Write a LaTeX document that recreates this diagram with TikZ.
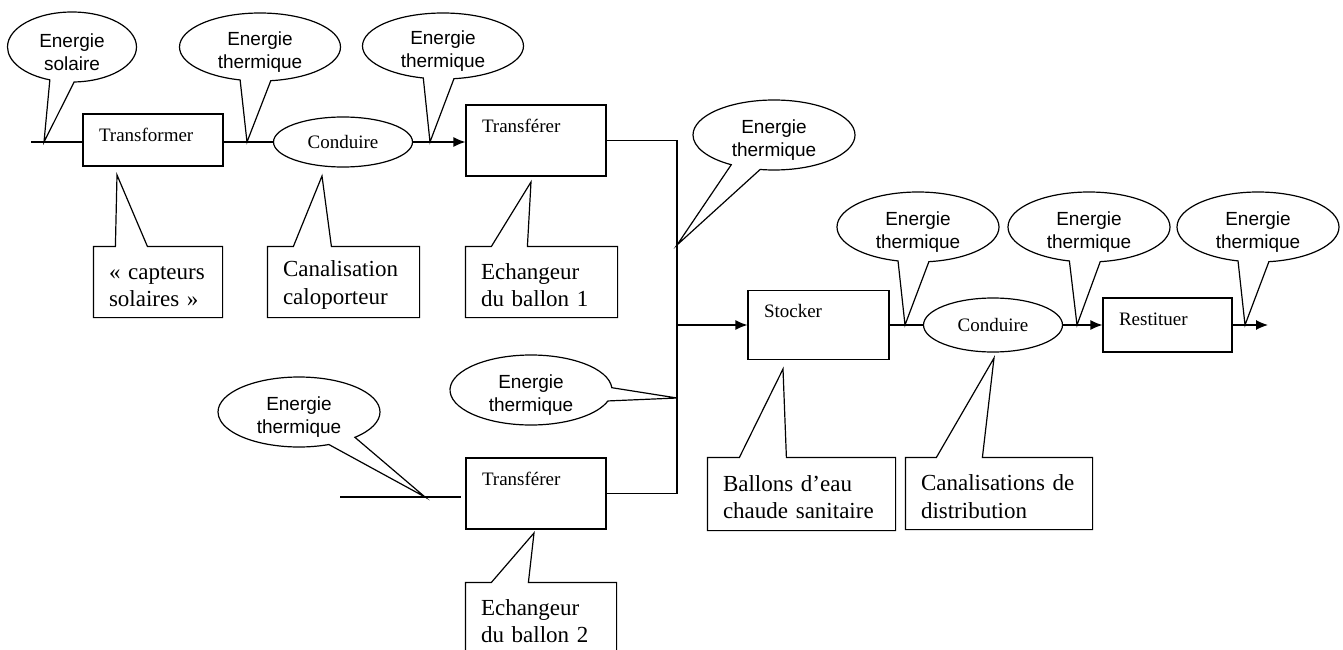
\documentclass[tikz,border=0pt]{standalone}
\usepackage{fontspec}
\setmainfont{Liberation Serif}
\newfontfamily\bullefont{Liberation Sans}
\usetikzlibrary{arrows.meta,shapes.geometric,shapes.callouts}

\begin{document}
\begin{tikzpicture}[x=1pt,y=-1pt,>={Latex[length=12pt,width=10pt]},line width=1.2pt]
  \tikzset{bulle/.style={ellipse callout,draw,align=center,inner xsep=0pt,inner ysep=-6pt,
      minimum width=162pt,minimum height=70pt,callout pointer arc=22,
      execute at begin node=\rule{0pt}{47pt},
      font=\bullefont\fontsize{19}{23}\selectfont}}
  \tikzset{fonction/.style 2 args={draw,align=left,inner xsep=16pt,inner ysep=0pt,
      text width=#1,text height=27pt,text depth=#2,font=\fontsize{19}{23}\selectfont}}
  \tikzset{conduite/.style={ellipse,draw,inner sep=0pt,minimum width=139pt,
      font=\fontsize{19}{23}\selectfont}}
  \tikzset{support/.style={rectangle,align=left,inner xsep=15pt,inner ysep=0pt,
      text width=#1,minimum height=70pt,execute at begin node=\rule{0pt}{22pt},
      font=\fontsize{23}{27.5}\selectfont}}
  \useasboundingbox (0,0) rectangle (1343,650);

  % fonctions
  \node[fonction={108pt}{25pt}] (tr) at (153,140) {Transformer};
  \node[conduite,minimum height=50pt] (co1) at (343,142) {Conduire};
  \node[fonction={108pt}{44pt}] (tf1) at (536,140.5) {Transférer};
  \node[fonction={108pt}{44pt}] (tf2) at (536,493.5) {Transférer};
  \node[fonction={109pt}{42pt}] (st) at (818.5,325) {Stocker};
  \node[conduite,minimum height=54pt] (co2) at (993,325) {Conduire};
  \node[fonction={97pt}{27pt}] (re) at (1167.5,325) {Restituer};

  % free ends and junction
  \coordinate (e1) at (31,142);
  \coordinate (e2) at (340,497);
  \coordinate (j) at (677,325);
  \coordinate (s) at (1268,325);

  % flux
  \draw (e1) -- (e1 -| tr.west);
  \draw (tr.east |- co1.west) -- (co1.west);
  \draw[->] (co1.east) -- (co1.east -| tf1.west);
  \draw (tf1.east) -| (j) |- (tf2.east);
  \draw (e2) -- ([xshift=-4pt]e2 -| tf2.west);
  \draw[->] (j) -- (j -| st.west);
  \draw (st.east) -- (co2.west);
  \draw[->] (co2.east) -- (re.west);
  \draw[->] (re.east) -- (s);

  % points of the bubbles
  \coordinate (p1) at (44,142);
  \coordinate (p2) at (247,142);
  \coordinate (p3) at (430,142);
  \coordinate (p4) at (677,245);
  \coordinate (p5) at (677,398);
  \coordinate (p6) at (425,497);
  \coordinate (p7) at (905,325);
  \coordinate (p8) at (1077,325);
  \coordinate (p9) at (1245,325);

  % energies
  \node[bulle,minimum width=129pt,callout absolute pointer={(p1)}] (b1) at (72,47) {Energie\\solaire};
  \node[bulle,minimum width=161pt,minimum height=68pt,callout absolute pointer={(p2)}] (b2) at (260,47) {Energie\\thermique};
  \node[bulle,minimum width=161pt,minimum height=66pt,callout absolute pointer={(p3)}] (b3) at (443,46) {Energie\\thermique};
  \node[bulle,callout absolute pointer={(p4)}] (b4) at (774,135) {Energie\\thermique};
  \node[bulle,callout absolute pointer={(p5)}] (b5) at (531,390) {Energie\\thermique};
  \node[bulle,callout absolute pointer={(p6)}] (b6) at (299,412) {Energie\\thermique};
  \node[bulle,callout absolute pointer={(p7)}] (b7) at (918,227) {Energie\\thermique};
  \node[bulle,callout absolute pointer={(p8)}] (b8) at (1089,227) {Energie\\thermique};
  \node[bulle,callout absolute pointer={(p9)}] (b9) at (1258,227) {Energie\\thermique};

  % supports
  \node[support=98pt] (ca) at (158,282) {«~capteurs\\solaires~»};
  \node[support=121pt] (cl) at (343.5,282) {Canalisation\\caloporteur};
  \node[support=121pt] (ec1) at (541.5,282) {Echangeur\\du ballon 1};
  \node[support=120pt] (ec2) at (541,618) {Echangeur\\du ballon 2};
  \node[support=157pt,minimum height=72pt] (ba) at (801.5,494) {Ballons d’eau\\chaude sanitaire};
  \node[support=156pt,minimum height=71pt] (cd) at (999,493.5) {Canalisations de\\distribution};

  % points of the supports
  \coordinate (q1) at (117,175);
  \coordinate (q2) at (322,176);
  \coordinate (q3) at (531,182);
  \coordinate (q4) at (534,533);
  \coordinate (q5) at (783,369);
  \coordinate (q6) at (994,358);

  \draw (ca.north west) -- ([xshift=22pt]ca.north west) -- (q1) -- ([xshift=54pt]ca.north west)
    -- (ca.north east) -- (ca.south east) -- (ca.south west) -- cycle;
  \draw (cl.north west) -- ([xshift=26pt]cl.north west) -- (q2) -- ([xshift=64pt]cl.north west)
    -- (cl.north east) -- (cl.south east) -- (cl.south west) -- cycle;
  \draw (ec1.north west) -- ([xshift=26pt]ec1.north west) -- (q3) -- ([xshift=62pt]ec1.north west)
    -- (ec1.north east) -- (ec1.south east) -- (ec1.south west) -- cycle;
  \draw (ec2.north west) -- ([xshift=26pt]ec2.north west) -- (q4) -- ([xshift=63pt]ec2.north west)
    -- (ec2.north east) -- (ec2.south east) -- (ec2.south west) -- cycle;
  \draw (ba.north west) -- ([xshift=32pt]ba.north west) -- (q5) -- ([xshift=79pt]ba.north west)
    -- (ba.north east) -- (ba.south east) -- (ba.south west) -- cycle;
  \draw (cd.north west) -- ([xshift=31pt]cd.north west) -- (q6) -- ([xshift=77pt]cd.north west)
    -- (cd.north east) -- (cd.south east) -- (cd.south west) -- cycle;
\end{tikzpicture}
\end{document}
